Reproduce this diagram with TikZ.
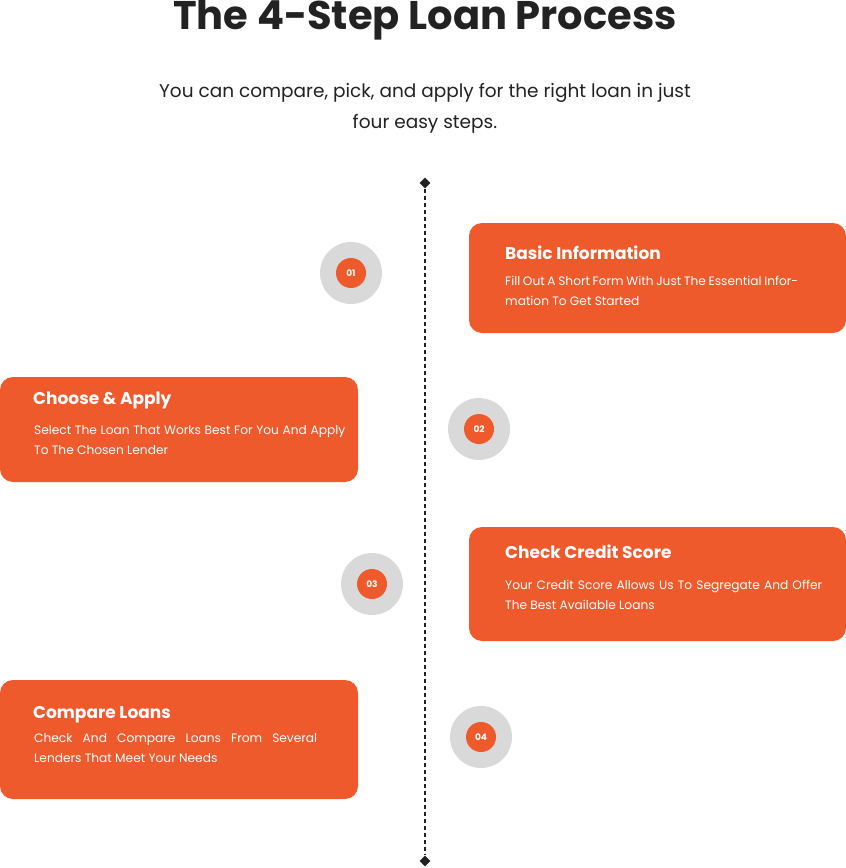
\documentclass[tikz,border=0pt]{standalone}
\usepackage{fontspec}
\setmainfont{Poppins}
\usetikzlibrary{shapes.geometric}
\definecolor{org}{HTML}{EE5A2C}
\definecolor{gry}{HTML}{D9D9D9}
\definecolor{ink}{HTML}{222222}
\begin{document}
\begin{tikzpicture}[x=1pt,y=-1pt,
 box/.style={fill=org,rounded corners=13pt},
 ttl/.style={anchor=west,text=white,font=\fontsize{17}{20}\selectfont\bfseries,inner sep=0},
 body/.style={anchor=north west,text=white,font=\fontsize{12.2}{20}\selectfont,align=justify,inner sep=0},
 outer/.style={circle,fill=gry,minimum size=62pt,inner sep=0},
 inner/.style={circle,fill=org,minimum size=30pt,inner sep=0,text=white,font=\fontsize{9}{10}\selectfont\bfseries},
 dia/.style={diamond,fill=ink,minimum size=11pt,inner sep=0}]
\useasboundingbox (0,0) rectangle (846,868);
\node[font=\fontsize{40}{44}\selectfont\bfseries,text=ink] (title) at (425,20) {The 4-Step Loan Process};
\node[font=\fontsize{18.5}{31}\selectfont,text=ink,align=center] (sub) at (425,108) {You can compare, pick, and apply for the right loan in just\\four easy steps.};
\node[dia] (top) at (425,183) {};
\node[dia] (bot) at (425,861) {};
\draw[ink,line width=1.8pt,dash pattern=on 4pt off 3pt] (top) -- (bot);
% boxes
\fill[box] (469,223) rectangle (846,333);
\node[ttl] (t1) at (505,253) {Basic Information};
\node[body,text width=293pt] (b1) at (505,276) {Fill Out A Short Form With Just The Essential Information To Get Started};
\fill[box] (0,377) rectangle (358,482);
\node[ttl] (t2) at (33,400) {Choose \& Apply};
\node[body,text width=311pt] (b2) at (34,425) {Select The Loan That Works Best For You And Apply To The Chosen Lender};
\fill[box] (469,527) rectangle (846,641);
\node[ttl] (t3) at (505,552) {Check Credit Score};
\node[body,text width=317pt] (b3) at (505,580) {Your Credit Score Allows Us To Segregate And Offer The Best Available Loans};
\fill[box] (0,680) rectangle (358,799);
\node[ttl] (t4) at (33,715) {Compare Loans};
\node[body,text width=283pt] (b4) at (34,733) {Check And Compare Loans From Several Lenders That Meet Your Needs};
% circles
\node[outer] (c1) at (351,273) {}; \node[inner] (n1) at (c1) {01};
\node[outer] (c2) at (479,429) {}; \node[inner] (n2) at (c2) {02};
\node[outer] (c3) at (372,584) {}; \node[inner] (n3) at (c3) {03};
\node[outer] (c4) at (481,737) {}; \node[inner] (n4) at (c4) {04};
\end{tikzpicture}
\end{document}
